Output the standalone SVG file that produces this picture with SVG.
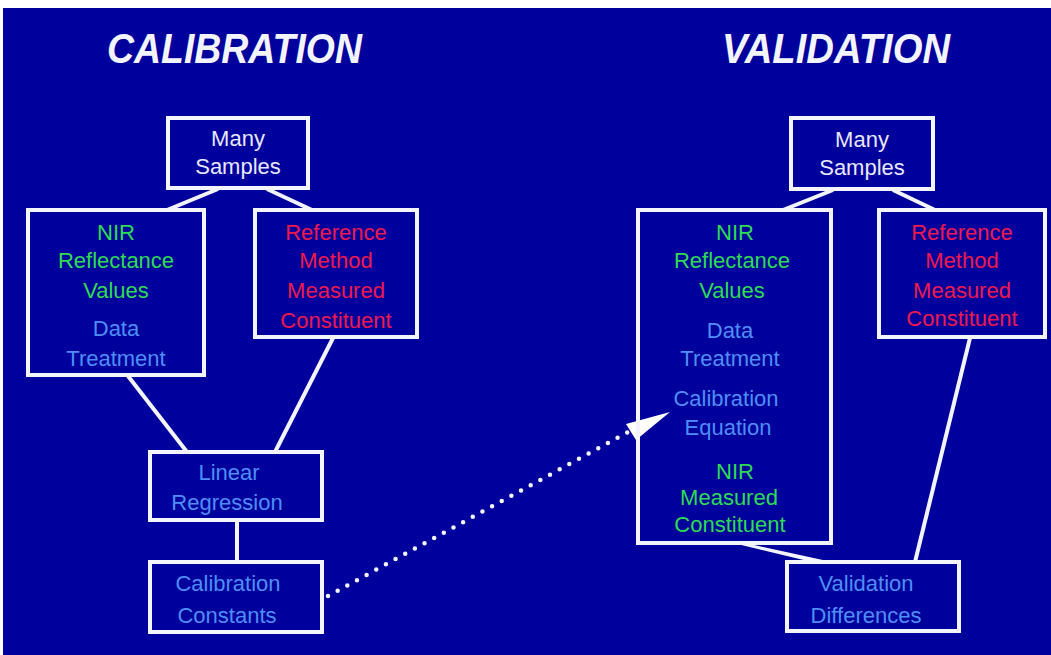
<svg xmlns="http://www.w3.org/2000/svg" width="1051" height="655" viewBox="0 0 1051 655">
  <style>
    .box { fill: none; stroke: #F4F4FF; stroke-width: 4; }
    .link { stroke: #F4F4FF; stroke-width: 4; fill: none; }
    .t { font-family: "Liberation Sans", Arial, sans-serif; font-size: 22px; text-anchor: middle; }
    .w { fill: #E8E8FF; }
    .g { fill: #2EDB52; }
    .r { fill: #EE1A4C; }
    .b { fill: #4F8EF5; }
    .title { font-family: "Liberation Sans", Arial, sans-serif; font-size: 42px; font-weight: bold; font-style: italic; fill: #F4F4FF; }
  </style>

  <!-- page -->
  <rect x="0" y="0" width="1051" height="655" fill="#FFFFFF"/>
  <rect x="3" y="8" width="1048" height="647" fill="#00009C"/>

  <!-- headings -->
  <text class="title" x="107" y="63" textLength="255" lengthAdjust="spacingAndGlyphs">CALIBRATION</text>
  <text class="title" x="722" y="63" textLength="228" lengthAdjust="spacingAndGlyphs">VALIDATION</text>

  <!-- connectors -->
  <g id="connectors">
    <line class="link" x1="218" y1="189" x2="167" y2="210"/>
    <line class="link" x1="267" y1="189" x2="312" y2="210"/>
    <line class="link" x1="128" y1="376" x2="187" y2="452"/>
    <line class="link" x1="333" y1="338" x2="275" y2="452"/>
    <line class="link" x1="237" y1="521" x2="237" y2="562"/>
    <line class="link" x1="833" y1="190" x2="783" y2="210"/>
    <line class="link" x1="893" y1="190" x2="935" y2="210"/>
    <line class="link" x1="970" y1="338" x2="915" y2="562"/>
    <polygon points="733,543 745,543 832,562 812,562" fill="#F4F4FF"/>
    <line x1="328" y1="596" x2="628" y2="432" stroke="#F4F4FF" stroke-width="4.5" stroke-linecap="round" stroke-dasharray="0 11"/>
    <polygon points="670,412 626,424 636,440" fill="#FFFFFF"/>
  </g>

  <!-- calibration side -->
  <g id="cal-samples">
    <rect class="box" x="168" y="118" width="140" height="70"/>
    <text class="t w" x="238" y="146">Many</text>
    <text class="t w" x="238" y="174">Samples</text>
  </g>
  <g id="cal-nir">
    <rect class="box" x="28" y="210" width="176" height="165"/>
    <text class="t g" x="116" y="240">NIR</text>
    <text class="t g" x="116" y="268">Reflectance</text>
    <text class="t g" x="116" y="298">Values</text>
    <text class="t b" x="116" y="336">Data</text>
    <text class="t b" x="116" y="366">Treatment</text>
  </g>
  <g id="cal-reference">
    <rect class="box" x="255" y="210" width="162" height="127"/>
    <text class="t r" x="336" y="240">Reference</text>
    <text class="t r" x="336" y="268">Method</text>
    <text class="t r" x="336" y="298">Measured</text>
    <text class="t r" x="336" y="328">Constituent</text>
  </g>
  <g id="cal-regression">
    <rect class="box" x="150" y="452" width="172" height="68"/>
    <text class="t b" x="229" y="480">Linear</text>
    <text class="t b" x="227" y="510">Regression</text>
  </g>
  <g id="cal-constants">
    <rect class="box" x="150" y="562" width="172" height="70"/>
    <text class="t b" x="228" y="591">Calibration</text>
    <text class="t b" x="227" y="623">Constants</text>
  </g>

  <!-- validation side -->
  <g id="val-samples">
    <rect class="box" x="791" y="118" width="142" height="71"/>
    <text class="t w" x="862" y="147">Many</text>
    <text class="t w" x="862" y="175">Samples</text>
  </g>
  <g id="val-nir">
    <rect class="box" x="638" y="210" width="193" height="333"/>
    <text class="t g" x="735" y="240">NIR</text>
    <text class="t g" x="732" y="268">Reflectance</text>
    <text class="t g" x="732" y="298">Values</text>
    <text class="t b" x="730" y="338">Data</text>
    <text class="t b" x="730" y="366">Treatment</text>
    <text class="t b" x="726" y="406">Calibration</text>
    <text class="t b" x="728" y="435">Equation</text>
    <text class="t g" x="735" y="479">NIR</text>
    <text class="t g" x="729" y="505">Measured</text>
    <text class="t g" x="730" y="532">Constituent</text>
  </g>
  <g id="val-reference">
    <rect class="box" x="879" y="210" width="166" height="127"/>
    <text class="t r" x="962" y="240">Reference</text>
    <text class="t r" x="962" y="268">Method</text>
    <text class="t r" x="962" y="298">Measured</text>
    <text class="t r" x="962" y="326">Constituent</text>
  </g>
  <g id="val-differences">
    <rect class="box" x="787" y="562" width="172" height="69"/>
    <text class="t b" x="866" y="591">Validation</text>
    <text class="t b" x="866" y="623">Differences</text>
  </g>
</svg>
